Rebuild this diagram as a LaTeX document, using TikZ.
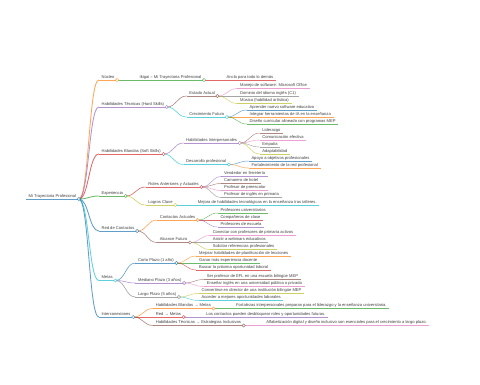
\documentclass[tikz,border=0pt]{standalone}
\usepackage{fontspec}
\setmainfont{Liberation Sans}
\usetikzlibrary{positioning, calc}

\definecolor{c0}{HTML}{1F77B4}
\definecolor{c1}{HTML}{FF7F0E}
\definecolor{c2}{HTML}{2CA02C}
\definecolor{c3}{HTML}{D62728}
\definecolor{c4}{HTML}{9467BD}
\definecolor{c5}{HTML}{8C564B}
\definecolor{c6}{HTML}{E377C2}
\definecolor{c7}{HTML}{7F7F7F}
\definecolor{c8}{HTML}{BCBD22}
\definecolor{c9}{HTML}{17BECF}

\tikzset{
  mmtext/.style={font=\fontsize{4.1}{5}\selectfont, text=black!75, inner xsep=2.5pt, inner ysep=0.8pt,
    text height=3pt, text depth=0.9pt, anchor=south west},
  lvone/.style={line width=0.85pt, draw opacity=0.7},
  lvtwo/.style={line width=0.6pt, draw opacity=0.7},
  lvthree/.style={line width=0.45pt, draw opacity=0.7},
  mmdot/.style={circle, draw=#1, draw opacity=0.8, fill=white, line width=0.45pt, inner sep=0pt, minimum size=3.2pt},
}

% child node: level style, name, parent, y, colour, text
\newcommand{\mmnode}[6]{%
  \node[mmtext] (#2) at ([xshift=20pt]#3.south east |- 0,#4) {#6};
  \draw[#1, draw=#5] (#2.south west) -- (#2.south east);
  \draw[#1, draw=#5] (#3.south east) .. controls +(10pt,0) and +(-10pt,0) .. (#2.south west);
}

\begin{document}
\begin{tikzpicture}[x=1pt, y=-1pt]
  \fill[white] (0,0) rectangle (480,384);
  \useasboundingbox (0,0) rectangle (480,384);

  \node[mmtext] (raiz) at (26,199) {Mi Trayectoria Profesional};
  \draw[lvone, draw=c0] (raiz.south west) -- (raiz.south east);

  % Nucleo
  \mmnode{lvone}{nucleo}{raiz}{80}{c1}{Núcleo}
  \mmnode{lvtwo}{ikigai}{nucleo}{80}{c2}{Ikigai – Mi Trayectoria Profesional}
  \mmnode{lvthree}{ancla}{ikigai}{80}{c3}{Ancla para todo lo demás}

  % Hard skills
  \mmnode{lvone}{tecnicas}{raiz}{107}{c4}{Habilidades Técnicas (Hard Skills)}
  \mmnode{lvtwo}{estado}{tecnicas}{96}{c5}{Estado Actual}
  \mmnode{lvthree}{manejo}{estado}{88.5}{c6}{Manejo de software: Microsoft Office}
  \mmnode{lvthree}{dominio}{estado}{96}{c7}{Dominio del idioma inglés (C1)}
  \mmnode{lvthree}{musica}{estado}{103.5}{c8}{Música (habilidad artística)}
  \mmnode{lvtwo}{crecimiento}{tecnicas}{117}{c9}{Crecimiento Futuro}
  \mmnode{lvthree}{aprender}{crecimiento}{110}{c0}{Aprender nuevo software educativo}
  \mmnode{lvthree}{integrar}{crecimiento}{117}{c1}{Integrar herramientas de IA en la enseñanza}
  \mmnode{lvthree}{diseno}{crecimiento}{124}{c2}{Diseño curricular alineado con programas MEP}

  % Soft skills
  \mmnode{lvone}{blandas}{raiz}{154}{c3}{Habilidades Blandas (Soft Skills)}
  \mmnode{lvtwo}{interpersonales}{blandas}{143}{c4}{Habilidades Interpersonales}
  \mmnode{lvthree}{liderazgo}{interpersonales}{133}{c5}{Liderazgo}
  \mmnode{lvthree}{comunicacion}{interpersonales}{140}{c6}{Comunicación efectiva}
  \mmnode{lvthree}{empatia}{interpersonales}{147}{c7}{Empatía}
  \mmnode{lvthree}{adaptabilidad}{interpersonales}{154}{c8}{Adaptabilidad}
  \mmnode{lvtwo}{desarrollo}{blandas}{164.5}{c9}{Desarrollo profesional}
  \mmnode{lvthree}{apoyo}{desarrollo}{161}{c0}{Apoyo a objetivos profesionales}
  \mmnode{lvthree}{fortalecimiento}{desarrollo}{168}{c1}{Fortalecimiento de la red profesional}

  % Experiencia
  \mmnode{lvone}{experiencia}{raiz}{196}{c2}{Experiencia}
  \mmnode{lvtwo}{roles}{experiencia}{187}{c3}{Roles Anteriores y Actuales}
  \mmnode{lvthree}{vendedor}{roles}{176.5}{c4}{Vendedor en ferretería}
  \mmnode{lvthree}{camarero}{roles}{183.5}{c5}{Camarero de hotel}
  \mmnode{lvthree}{preescolar}{roles}{190.5}{c6}{Profesor de preescolar}
  \mmnode{lvthree}{primaria}{roles}{197.5}{c7}{Profesor de inglés en primaria}
  \mmnode{lvtwo}{logros}{experiencia}{205}{c8}{Logros Clave}
  \mmnode{lvthree}{mejora}{logros}{205}{c9}{Mejora de habilidades tecnológicas en la enseñanza tras talleres.}

  % Red de contactos
  \mmnode{lvone}{redcontactos}{raiz}{231}{c0}{Red de Contactos}
  \mmnode{lvtwo}{actuales}{redcontactos}{220}{c1}{Contactos Actuales}
  \mmnode{lvthree}{universitarios}{actuales}{213}{c2}{Profesores universitarios}
  \mmnode{lvthree}{companeros}{actuales}{220}{c3}{Compañeros de clase}
  \mmnode{lvthree}{escuela}{actuales}{227}{c4}{Profesores de escuela}
  \mmnode{lvtwo}{alcance}{redcontactos}{242.5}{c5}{Alcance Futuro}
  \mmnode{lvthree}{conectar}{alcance}{235.5}{c6}{Conectar con profesores de primaria activos}
  \mmnode{lvthree}{asistir}{alcance}{242.5}{c7}{Asistir a webinars educativos}
  \mmnode{lvthree}{solicitar}{alcance}{249.5}{c8}{Solicitar referencias profesionales}

  % Metas
  \mmnode{lvone}{metas}{raiz}{280.5}{c9}{Metas}
  \mmnode{lvtwo}{corto}{metas}{263}{c0}{Corto Plazo (1 año)}
  \mmnode{lvthree}{mejorar}{corto}{256}{c1}{Mejorar habilidades de planificación de lecciones}
  \mmnode{lvthree}{ganar}{corto}{263}{c2}{Ganar más experiencia docente}
  \mmnode{lvthree}{buscar}{corto}{270}{c3}{Buscar la próxima oportunidad laboral}
  \mmnode{lvtwo}{mediano}{metas}{283}{c4}{Mediano Plazo (3 años)}
  \mmnode{lvthree}{ser}{mediano}{279.5}{c5}{Ser profesor de EFL en una escuela bilingüe MEP}
  \mmnode{lvthree}{ensenar}{mediano}{286.5}{c6}{Enseñar inglés en una universidad pública o privada}
  \mmnode{lvtwo}{largo}{metas}{297}{c7}{Largo Plazo (5 años)}
  \mmnode{lvthree}{convertirse}{largo}{293.5}{c8}{Convertirse en director de una institución bilingüe MEP}
  \mmnode{lvthree}{acceder}{largo}{300.5}{c9}{Acceder a mejores oportunidades laborales}

  % Interconexiones
  \mmnode{lvone}{inter}{raiz}{317}{c0}{Interconexiones}
  \mmnode{lvtwo}{blandasmetas}{inter}{308.5}{c1}{Habilidades Blandas → Metas}
  \mmnode{lvthree}{fortalezas}{blandasmetas}{308.5}{c2}{Fortalezas interpersonales preparan para el liderazgo y la enseñanza universitaria.}
  \mmnode{lvtwo}{redmetas}{inter}{317}{c3}{Red → Metas}
  \mmnode{lvthree}{loscontactos}{redmetas}{317}{c4}{Los contactos pueden desbloquear roles y oportunidades futuras.}
  \mmnode{lvtwo}{estrategias}{inter}{325.5}{c5}{Habilidades Técnicas → Estrategias Inclusivas}
  \mmnode{lvthree}{alfabetizacion}{estrategias}{325.5}{c6}{Alfabetización digital y diseño inclusivo son esenciales para el crecimiento a largo plazo.}

  % circles on the branching nodes
  \foreach \n/\c in {raiz/c0, nucleo/c1, ikigai/c2, tecnicas/c4, estado/c5, crecimiento/c9,
      blandas/c3, interpersonales/c4, desarrollo/c9, experiencia/c2, roles/c3, logros/c8,
      redcontactos/c0, actuales/c1, alcance/c5, metas/c9, corto/c0, mediano/c4, largo/c7,
      inter/c0, blandasmetas/c1, redmetas/c3, estrategias/c5}
    \node[mmdot=\c] (\n-d) at (\n.south east) {};
\end{tikzpicture}
\end{document}
